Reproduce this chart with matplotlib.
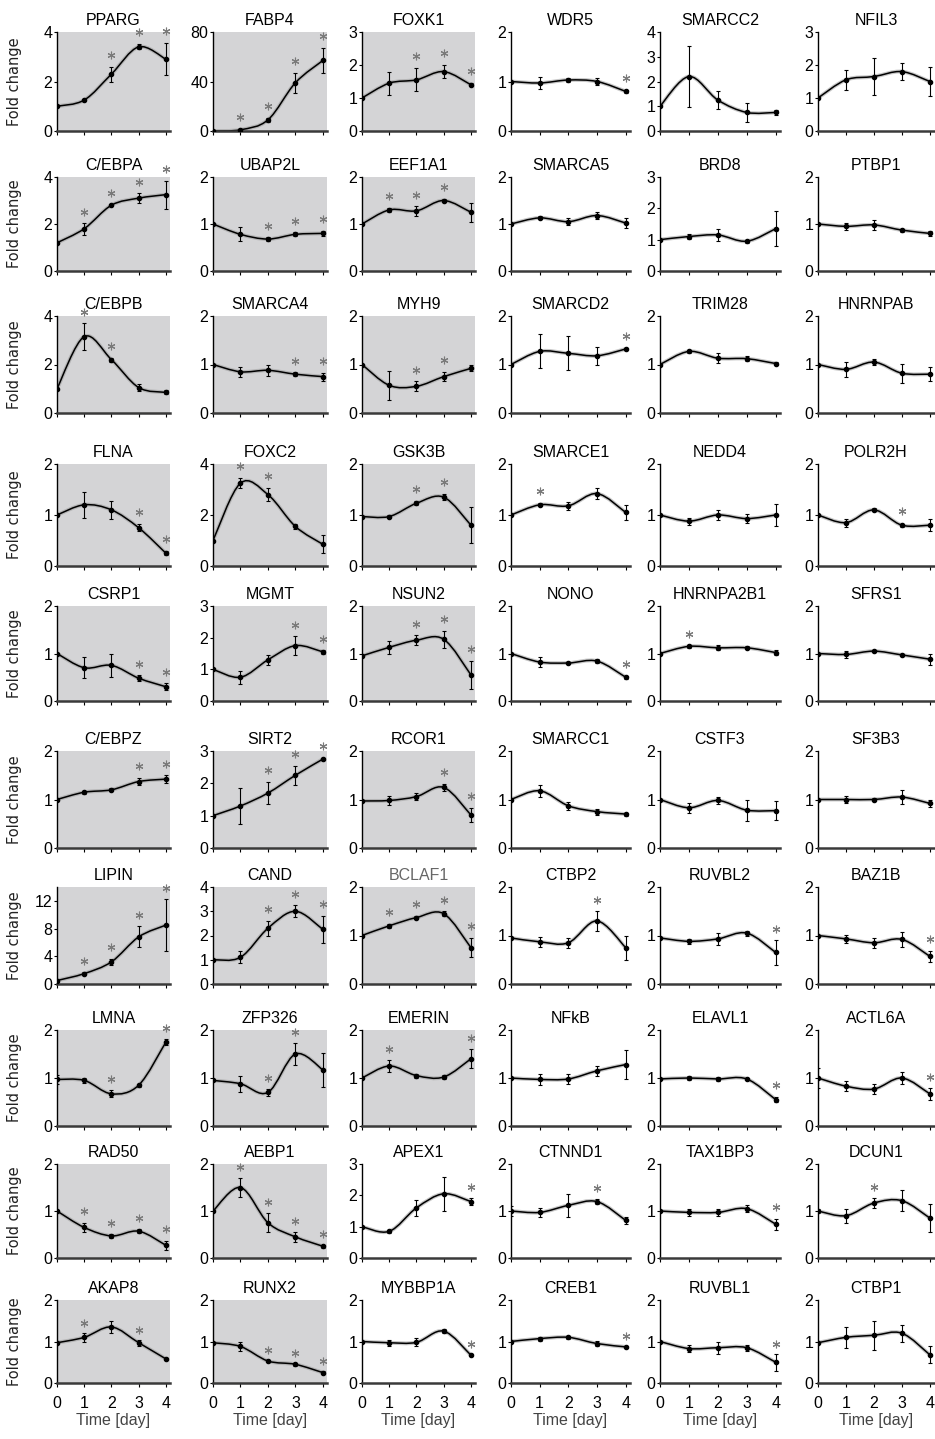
import numpy as np
import matplotlib
matplotlib.use('Agg')
import matplotlib.pyplot as plt
from matplotlib.path import Path
from matplotlib.patches import PathPatch
import matplotlib.patheffects as pe

plt.rcParams['font.family'] = ['Liberation Sans', 'DejaVu Sans']

days = [0, 1, 2, 3, 4]

# genes, row by row (6 per row)
genes = ['PPARG', 'FABP4', 'FOXK1', 'WDR5', 'SMARCC2', 'NFIL3',
         'C/EBPA', 'UBAP2L', 'EEF1A1', 'SMARCA5', 'BRD8', 'PTBP1',
         'C/EBPB', 'SMARCA4', 'MYH9', 'SMARCD2', 'TRIM28', 'HNRNPAB',
         'FLNA', 'FOXC2', 'GSK3B', 'SMARCE1', 'NEDD4', 'POLR2H',
         'CSRP1', 'MGMT', 'NSUN2', 'NONO', 'HNRNPA2B1', 'SFRS1',
         'C/EBPZ', 'SIRT2', 'RCOR1', 'SMARCC1', 'CSTF3', 'SF3B3',
         'LIPIN', 'CAND', 'BCLAF1', 'CTBP2', 'RUVBL2', 'BAZ1B',
         'LMNA', 'ZFP326', 'EMERIN', 'NFkB', 'ELAVL1', 'ACTL6A',
         'RAD50', 'AEBP1', 'APEX1', 'CTNND1', 'TAX1BP3', 'DCUN1',
         'AKAP8', 'RUNX2', 'MYBBP1A', 'CREB1', 'RUVBL1', 'CTBP1']

# mean fold change at days 0..4
means = [
    [1.0, 1.25, 2.3, 3.4, 2.9], [0, 1, 9, 39, 57], [1.0, 1.45, 1.55, 1.8, 1.4],
    [1.0, 0.97, 1.03, 1.0, 0.8], [1.0, 2.2, 1.25, 0.75, 0.75], [1.0, 1.55, 1.65, 1.8, 1.5],
    [1.2, 1.8, 2.8, 3.1, 3.25], [1.0, 0.78, 0.68, 0.78, 0.8], [1.0, 1.3, 1.28, 1.5, 1.25],
    [1.0, 1.13, 1.05, 1.18, 1.02], [1.0, 1.1, 1.15, 0.95, 1.35], [1.0, 0.95, 0.98, 0.87, 0.8],
    [1.0, 3.15, 2.2, 1.05, 0.85], [1.0, 0.85, 0.88, 0.8, 0.75], [1.0, 0.57, 0.55, 0.75, 0.92],
    [1.0, 1.27, 1.23, 1.18, 1.32], [1.0, 1.27, 1.13, 1.12, 1.02], [1.0, 0.9, 1.05, 0.82, 0.8],
    [1.0, 1.2, 1.1, 0.75, 0.25], [1.0, 3.25, 2.8, 1.55, 0.85], [0.97, 0.97, 1.23, 1.35, 0.8],
    [1.0, 1.2, 1.18, 1.42, 1.05], [1.0, 0.88, 1.0, 0.93, 1.0], [1.0, 0.85, 1.1, 0.8, 0.8],
    [1.0, 0.7, 0.75, 0.48, 0.3], [1.0, 0.75, 1.3, 1.75, 1.55], [0.95, 1.13, 1.28, 1.3, 0.55],
    [1.0, 0.82, 0.8, 0.84, 0.5], [1.0, 1.15, 1.12, 1.12, 1.02], [1.0, 0.98, 1.05, 0.97, 0.88],
    [1.0, 1.15, 1.2, 1.37, 1.42], [1.0, 1.3, 1.7, 2.25, 2.75], [0.97, 0.98, 1.06, 1.25, 0.68],
    [1.0, 1.18, 0.87, 0.75, 0.7], [1.0, 0.83, 0.98, 0.78, 0.77], [1.0, 1.0, 1.0, 1.05, 0.92],
    [0.5, 1.5, 3.2, 6.8, 8.5], [1.0, 1.1, 2.3, 3.0, 2.25], [1.0, 1.2, 1.37, 1.45, 0.75],
    [0.95, 0.87, 0.85, 1.3, 0.75], [0.95, 0.88, 0.93, 1.05, 0.65], [1.0, 0.93, 0.85, 0.92, 0.57],
    [0.97, 0.95, 0.67, 0.85, 1.75], [0.95, 0.88, 0.7, 1.5, 1.17], [1.0, 1.25, 1.05, 1.02, 1.4],
    [1.0, 0.97, 0.98, 1.15, 1.28], [0.98, 1.0, 0.98, 0.98, 0.55], [1.0, 0.83, 0.77, 1.0, 0.67],
    [1.0, 0.65, 0.47, 0.57, 0.27], [1.0, 1.5, 0.75, 0.45, 0.25], [1.0, 0.85, 1.6, 2.05, 1.8],
    [1.0, 0.97, 1.12, 1.2, 0.8], [1.0, 0.97, 0.97, 1.05, 0.72], [1.0, 0.9, 1.17, 1.22, 0.85],
    [0.97, 1.1, 1.35, 0.97, 0.58], [0.97, 0.88, 0.53, 0.45, 0.25], [1.0, 0.97, 0.98, 1.25, 0.67],
    [1.0, 1.07, 1.1, 0.95, 0.87], [1.0, 0.83, 0.85, 0.85, 0.5], [0.97, 1.1, 1.15, 1.2, 0.68],
]

# standard deviations
errs = [
    [0, 0.05, 0.3, 0.1, 0.65], [0, 0.5, 1.5, 8, 10], [0, 0.35, 0.35, 0.2, 0.05],
    [0, 0.12, 0.05, 0.08, 0.03], [0, 1.25, 0.35, 0.4, 0.1], [0, 0.3, 0.55, 0.25, 0.45],
    [0, 0.25, 0.05, 0.2, 0.6], [0, 0.15, 0.04, 0.04, 0.06], [0, 0.05, 0.1, 0.04, 0.2],
    [0, 0.03, 0.08, 0.08, 0.1], [0, 0.08, 0.2, 0.05, 0.55], [0.02, 0.08, 0.1, 0.03, 0.06],
    [0, 0.55, 0.08, 0.15, 0.08], [0, 0.1, 0.12, 0.04, 0.08], [0, 0.3, 0.1, 0.1, 0.06],
    [0, 0.35, 0.35, 0.18, 0.03], [0, 0.03, 0.1, 0.05, 0.04], [0, 0.15, 0.07, 0.2, 0.15],
    [0, 0.25, 0.18, 0.07, 0.04], [0, 0.2, 0.25, 0.1, 0.35], [0, 0.03, 0.04, 0.06, 0.35],
    [0, 0.03, 0.08, 0.1, 0.15], [0.02, 0.07, 0.1, 0.08, 0.22], [0, 0.08, 0.03, 0.03, 0.12],
    [0, 0.22, 0.25, 0.06, 0.07], [0, 0.2, 0.15, 0.3, 0.05], [0, 0.13, 0.1, 0.18, 0.3],
    [0, 0.1, 0.03, 0.05, 0.03], [0, 0.03, 0.05, 0.03, 0.05], [0, 0.07, 0.02, 0.03, 0.12],
    [0, 0.03, 0.03, 0.08, 0.08], [0, 0.55, 0.35, 0.3, 0.04], [0, 0.1, 0.07, 0.07, 0.15],
    [0, 0.12, 0.08, 0.06, 0.03], [0.02, 0.1, 0.07, 0.22, 0.2], [0, 0.07, 0.03, 0.15, 0.08],
    [0, 0.2, 0.4, 1.5, 3.7], [0, 0.25, 0.3, 0.25, 0.55], [0, 0.04, 0.04, 0.05, 0.2],
    [0, 0.1, 0.1, 0.2, 0.25], [0, 0.05, 0.12, 0.05, 0.25], [0, 0.08, 0.1, 0.15, 0.12],
    [0.1, 0.05, 0.07, 0.03, 0.06], [0, 0.17, 0.07, 0.22, 0.35], [0, 0.12, 0.04, 0.05, 0.2],
    [0, 0.12, 0.1, 0.1, 0.3], [0, 0.05, 0.05, 0.03, 0.06], [0.2, 0.1, 0.1, 0.12, 0.12],
    [0, 0.1, 0.04, 0.04, 0.1], [0, 0.2, 0.2, 0.1, 0.03], [0, 0.05, 0.25, 0.55, 0.1],
    [0.1, 0.1, 0.25, 0.06, 0.07], [0.03, 0.08, 0.07, 0.07, 0.12], [0.05, 0.15, 0.1, 0.22, 0.3],
    [0, 0.1, 0.15, 0.07, 0.03], [0, 0.1, 0.03, 0.03, 0.03], [0, 0.07, 0.1, 0.05, 0.02],
    [0, 0.05, 0.03, 0.07, 0.03], [0, 0.08, 0.15, 0.07, 0.2], [0, 0.25, 0.35, 0.2, 0.2],
]

# days with a significant change
stars = [
    [2, 3, 4], [1, 2, 3, 4], [2, 3, 4], [4], [], [],
    [1, 2, 3, 4], [2, 3, 4], [1, 2, 3], [], [], [],
    [1, 2], [3, 4], [2, 3], [4], [], [],
    [3, 4], [1, 2], [2, 3], [1], [], [3],
    [3, 4], [3, 4], [2, 3, 4], [4], [1], [],
    [3, 4], [2, 3, 4], [3, 4], [], [], [],
    [1, 2, 3, 4], [2, 3, 4], [1, 2, 3, 4], [3], [4], [4],
    [2, 4], [2, 3], [1, 4], [], [4], [4],
    [1, 2, 3, 4], [1, 2, 3, 4], [4], [3], [4], [2],
    [1, 3], [2, 3, 4], [4], [4], [4], [],
]

ymax = [4, 80, 3, 2, 4, 3,
        4, 2, 2, 2, 3, 2,
        4, 2, 2, 2, 2, 2,
        2, 4, 2, 2, 2, 2,
        2, 3, 2, 2, 2, 2,
        2, 3, 2, 2, 2, 2,
        14, 4, 2, 2, 2, 2,
        2, 2, 2, 2, 2, 2,
        2, 2, 3, 2, 2, 2,
        2, 2, 2, 2, 2, 2]

ystep = [2, 40, 1, 1, 1, 1,
         2, 1, 1, 1, 1, 1,
         2, 1, 1, 1, 1, 1,
         1, 2, 1, 1, 1, 1,
         1, 1, 1, 1, 1, 1,
         1, 1, 1, 1, 1, 1,
         4, 1, 1, 1, 1, 1,
         1, 1, 1, 1, 1, 1,
         1, 1, 1, 1, 1, 1,
         1, 1, 1, 1, 1, 1]

W, H = 935, 1439
col_left = [57, 213, 362, 511, 660, 818]
col_right = [170, 327, 475, 630, 780, 934]
row_top = [32, 177, 316, 464, 606, 751, 887, 1030, 1164, 1300]
row_bot = [131, 271, 413, 566, 701, 848, 984, 1126, 1258, 1383]

SHADE = '#d4d4d6'


def smooth_path(x, y):
    # cubic bezier through the points, Excel-style smoothed line
    p = np.column_stack([x, y]).astype(float)
    verts, codes = [p[0]], [Path.MOVETO]
    for i in range(len(p) - 1):
        p0 = p[max(i - 1, 0)]
        p1, p2 = p[i], p[i + 1]
        p3 = p[min(i + 2, len(p) - 1)]
        verts += [p1 + (p2 - p0) / 6, p2 - (p3 - p1) / 6, p2]
        codes += [Path.CURVE4] * 3
    return Path(verts, codes)


fig = plt.figure(figsize=(W / 100, H / 100), dpi=100)

for i, gene in enumerate(genes):
    r, c = divmod(i, 6)
    l, rr = col_left[c], col_right[c]
    t, b = row_top[r], row_bot[r]
    ax = fig.add_axes([l / W, 1 - b / H, (rr - l) / W, (b - t) / H])

    shaded = c <= 1 or (c == 2 and r < 8)
    ax.set_facecolor(SHADE if shaded else 'white')

    m = np.array(means[i], dtype=float)
    e = np.array(errs[i], dtype=float)

    line = PathPatch(smooth_path(days, m), fill=False, lw=1.1, edgecolor='black',
                     path_effects=[pe.Stroke(linewidth=2.8, foreground='#9a9a9a', alpha=0.55),
                                   pe.Normal()])
    ax.add_patch(line)
    ax.errorbar(days, m, yerr=e, fmt='o', ms=3, color='black', ecolor='black',
                elinewidth=0.8, capsize=1.6, capthick=0.8, zorder=3)

    if stars[i]:
        sx = np.array(stars[i])
        sy = m[sx] + e[sx] + 0.12 * ymax[i]
        ax.plot(sx, sy, ls='none', marker=(6, 2, 0), ms=5.5, mew=0.8,
                color='#7a7a7a', clip_on=False, zorder=4)

    ax.set_xlim(0, 4.15)
    ax.set_ylim(0, ymax[i])
    ax.set_yticks(np.arange(0, ymax[i] + 1e-9, ystep[i]))
    ax.set_xticks(days)

    for s in ('top', 'right'):
        ax.spines[s].set_visible(False)
    ax.spines['left'].set_linewidth(1.0)
    ax.spines['bottom'].set_linewidth(1.8)
    ax.spines['bottom'].set_color('#3a3a3a')

    ax.tick_params(axis='y', direction='out', length=2, width=0.8, pad=1.5,
                   labelsize=11.5, colors='black')
    ax.tick_params(axis='x', direction='out', length=3, width=0.8, pad=6,
                   labelsize=11.5)
    if r < 9:
        ax.tick_params(axis='x', labelbottom=False)
    else:
        ax.set_xlabel('Time [day]', fontsize=11.5, color='#444444', labelpad=2)

    ax.set_title(gene, fontsize=11.5, pad=5,
                 color='#666666' if gene == 'BCLAF1' else 'black')

    if c == 0:
        ax.set_ylabel('Fold change', fontsize=10.5, family='DejaVu Sans',
                      weight='medium', color='#222222')
        ax.yaxis.set_label_coords(-0.31, 0.5)

fig.savefig('out.png', dpi=100)
